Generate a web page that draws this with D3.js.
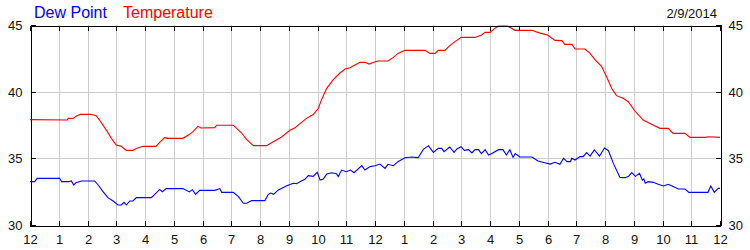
<!DOCTYPE html>
<html><head><meta charset="utf-8">
<script src="https://cdn.jsdelivr.net/npm/d3@7"></script>
<style>
html,body{margin:0;padding:0;background:#fff;}
svg{display:block;font-family:"Liberation Sans",Arial,sans-serif;}
</style></head>
<body><svg id="c" width="750" height="250"></svg>
<script>
const dateLabel = "2/9/2014";
const seriesNames = ["Dew Point", "Temperature"];
const xTickLabels = ["12","1","2","3","4","5","6","7","8","9","10","11","12","1","2","3","4","5","6","7","8","9","10","11","12"];
const yTicks = [30, 35, 40, 45];

// hours since midnight
const tempHours = [0,1.3,1.33,1.5,1.6,1.76,2.11,2.3,2.42,2.66,2.83,3.0,3.17,3.35,3.58,3.72,3.93,4.38,4.51,4.68,4.8,5.32,5.55,5.67,5.84,5.95,6.43,6.49,7.07,7.19,7.36,7.54,7.77,8.23,8.46,8.75,9.04,9.22,9.39,9.62,9.86,10.03,10.14,10.32,10.55,10.78,10.96,11.13,11.3,11.48,11.65,11.8,11.95,12.1,12.45,12.64,12.8,13.04,13.74,13.91,14.09,14.2,14.43,14.6,14.78,15.0,15.48,15.71,15.83,16.0,16.17,16.29,16.6,16.75,16.87,17.46,17.68,18.0,18.26,18.5,18.6,18.85,18.96,19.3,19.48,19.65,19.88,20.06,20.23,20.4,20.63,20.81,21.04,21.33,21.62,21.91,22.2,22.37,22.78,22.96,23.5,23.6,24];
const tempValues = [37.9,37.88,38.0,38.0,38.15,38.3,38.3,38.2,37.87,37.1,36.5,36.0,35.9,35.6,35.6,35.75,35.9,35.9,36.2,36.55,36.5,36.5,36.8,37.0,37.4,37.28,37.3,37.48,37.48,37.25,36.9,36.4,35.95,35.95,36.25,36.6,37.1,37.3,37.6,38.0,38.3,38.75,39.4,40.25,40.9,41.4,41.7,41.8,42.0,42.2,42.2,42.07,42.2,42.3,42.3,42.57,42.87,43.1,43.1,42.87,42.87,43.1,43.1,43.45,43.75,44.07,44.07,44.25,44.45,44.45,44.75,44.93,44.93,44.75,44.6,44.6,44.43,44.25,43.85,43.83,43.55,43.55,43.2,43.2,42.87,42.4,41.9,41.1,40.25,39.7,39.5,39.25,38.55,37.87,37.55,37.25,37.25,36.87,36.87,36.57,36.57,36.62,36.57];

const dewHours = [0,0.16,0.25,1.03,1.1,1.35,1.44,1.52,1.6,1.79,2.25,2.37,2.54,2.71,2.89,3.06,3.18,3.27,3.35,3.47,3.58,3.7,4.22,4.34,4.51,4.6,4.74,5.32,5.54,5.65,5.76,5.9,6.43,6.6,6.67,7.07,7.25,7.42,7.54,7.71,8.17,8.29,8.38,8.47,8.64,8.93,9.16,9.27,9.39,9.56,9.68,9.85,9.99,10.09,10.2,10.32,10.49,10.66,10.72,10.84,11.0,11.15,11.27,11.54,11.65,11.83,12.0,12.17,12.35,12.45,12.64,12.8,13.04,13.27,13.5,13.68,13.86,14.03,14.2,14.32,14.4,14.6,14.75,14.85,14.99,15.11,15.25,15.37,15.48,15.6,15.7,15.83,15.95,16.06,16.3,16.45,16.57,16.69,16.8,16.88,17.04,17.46,17.67,17.9,18.09,18.26,18.43,18.56,18.68,18.8,18.84,18.96,19.13,19.24,19.36,19.48,19.63,19.81,19.98,20.12,20.29,20.52,20.7,20.82,20.93,21.06,21.2,21.3,21.35,21.4,21.5,21.68,21.85,22.03,22.2,22.37,22.55,22.78,22.92,23.58,23.68,23.8,23.94,24];
const dewValues = [33.25,33.25,33.5,33.5,33.25,33.25,33.3,33.0,33.17,33.3,33.3,33.0,32.5,32.05,31.8,31.5,31.5,31.7,31.5,31.8,31.8,32.05,32.05,32.3,32.67,32.5,32.73,32.73,32.48,32.65,32.3,32.6,32.6,32.73,32.45,32.45,32.13,31.63,31.63,31.83,31.83,32.3,32.4,32.3,32.63,32.95,33.13,33.1,33.25,33.43,33.7,33.65,33.95,33.37,33.45,33.82,33.92,33.85,33.63,34.12,34.0,34.12,33.92,34.45,34.12,34.38,34.45,34.57,34.25,34.55,34.45,34.75,35.05,35.1,35.05,35.67,35.95,35.45,35.75,35.75,35.5,35.85,35.45,35.7,35.87,35.6,35.65,35.4,35.65,35.65,35.35,35.65,35.25,35.37,35.65,35.65,35.25,35.65,35.07,35.35,35.1,35.1,34.8,34.67,34.57,34.7,34.55,35.0,34.75,34.75,35.0,34.87,35.13,35.13,35.43,35.17,35.63,35.17,35.77,35.57,34.62,33.57,33.55,33.65,33.93,33.65,33.87,33.37,33.45,33.13,33.25,33.2,33.05,32.93,33.05,32.88,32.7,32.7,32.45,32.45,32.93,32.45,32.75,32.75];

const svg = d3.select("#c");
const L = 30, R = 720, T = 25, B = 225;
const x = d3.scaleLinear().domain([0, 24]).range([L, R]);
const y = d3.scaleLinear().domain([30, 45]).range([B, T]);
const hourTicks = d3.range(0, 25);

// gridlines
const grid = svg.append("g").attr("stroke", "#cccccc").attr("stroke-width", 1).attr("shape-rendering", "crispEdges");
hourTicks.slice(1, -1).forEach(h => {
  grid.append("line").attr("x1", Math.round(x(h)) + 0.5).attr("x2", Math.round(x(h)) + 0.5).attr("y1", T).attr("y2", B);
});
[35, 40].forEach(v => {
  grid.append("line").attr("x1", L).attr("x2", R).attr("y1", Math.round(y(v)) + 0.5).attr("y2", Math.round(y(v)) + 0.5);
});

// lines
const line = d3.line().x(d => x(d[0])).y(d => y(d[1]));
svg.append("path").datum(tempHours.map((h, i) => [h, tempValues[i]]))
  .attr("d", line).attr("fill", "none").attr("stroke", "#ff0000").attr("stroke-width", 1.1);
svg.append("path").datum(dewHours.map((h, i) => [h, dewValues[i]]))
  .attr("d", line).attr("fill", "none").attr("stroke", "#0000ff").attr("stroke-width", 1.1);

// axes (ticks inward)
const gBottom = svg.append("g").attr("transform", `translate(0,${B + 0.5})`)
  .call(d3.axisBottom(x).tickValues(hourTicks).tickSize(-5).tickPadding(9).tickFormat((d, i) => xTickLabels[i]));
const gTop = svg.append("g").attr("transform", `translate(0,${T + 0.5})`)
  .call(d3.axisTop(x).tickValues(hourTicks).tickSize(-5).tickFormat(""));
const gLeft = svg.append("g").attr("transform", `translate(${L + 0.5},0)`)
  .call(d3.axisLeft(y).tickValues(yTicks).tickSize(-5).tickPadding(8).tickFormat(d3.format("d")));
const gRight = svg.append("g").attr("transform", `translate(${R + 0.5},0)`)
  .call(d3.axisRight(y).tickValues(yTicks).tickSize(-5).tickPadding(8).tickFormat(d3.format("d")));
[gBottom, gTop, gLeft, gRight].forEach(g => {
  g.select(".domain").attr("stroke", "#000").attr("shape-rendering", "crispEdges");
  g.selectAll(".tick line").attr("stroke", "#000").attr("shape-rendering", "crispEdges");
  g.selectAll("text").attr("fill", "#111").attr("font-size", 13).attr("font-family", "Liberation Sans, Arial, sans-serif");
});
gBottom.selectAll(".tick").attr("transform", d => `translate(${Math.round(x(d)) + 0.5},0)`);
gTop.selectAll(".tick").attr("transform", d => `translate(${Math.round(x(d)) + 0.5},0)`);
gLeft.selectAll(".tick").attr("transform", d => `translate(0,${Math.round(y(d)) + 0.5})`);
gRight.selectAll(".tick").attr("transform", d => `translate(0,${Math.round(y(d)) + 0.5})`);

// legend
svg.append("text").attr("x", 34).attr("y", 18).attr("font-size", 16).attr("fill", "#0000ff").text(seriesNames[0]);
svg.append("text").attr("x", 123).attr("y", 18).attr("font-size", 16).attr("fill", "#ff0000").text(seriesNames[1]);
svg.append("text").attr("x", 717).attr("y", 18).attr("font-size", 13).attr("text-anchor", "end").attr("fill", "#111").text(dateLabel);
</script></body></html>
